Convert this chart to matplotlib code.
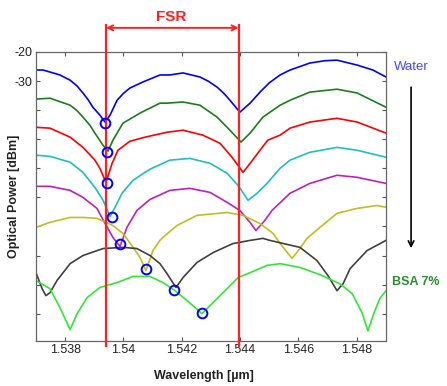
import matplotlib
matplotlib.use("Agg")
import matplotlib.pyplot as plt
from matplotlib.ticker import FixedLocator, FixedFormatter

plt.rcParams['font.family'] = ['Liberation Sans', 'DejaVu Sans']

# spectra: wavelength [um], power [dBm]
wl_water = [1.53700, 1.53724, 1.53748, 1.53782, 1.53817, 1.53840, 1.53861, 1.53880, 1.53895,
            1.53919, 1.53937, 1.53954, 1.53978, 1.54000, 1.54022, 1.54067, 1.54125, 1.54159,
            1.54204, 1.54262, 1.54290, 1.54321, 1.54345, 1.54365, 1.54399, 1.54434, 1.54468,
            1.54500, 1.54537, 1.54571, 1.54639, 1.54690, 1.54732, 1.54801, 1.54855, 1.54900]
p_water = [-26.2, -26.2, -26.9, -27.9, -29.7, -31.6, -34.1, -36.6, -39.0,
           -41.7, -44.1, -41.7, -36.6, -34.2, -32.4, -30.3, -27.9, -27.9,
           -27.2, -28.6, -30.0, -32.1, -34.3, -36.6, -40.7, -37.6, -33.8,
           -30.6, -27.9, -26.2, -23.8, -23.0, -22.8, -24.5, -26.2, -28.6]

wl_2 = [1.53700, 1.53748, 1.53817, 1.53840, 1.53861, 1.53885, 1.53902, 1.53930, 1.53947,
        1.53964, 1.53998, 1.54057, 1.54125, 1.54149, 1.54204, 1.54262, 1.54321, 1.54365,
        1.54403, 1.54434, 1.54478, 1.54537, 1.54571, 1.54639, 1.54732, 1.54801, 1.54900]
p_2 = [-36.2, -35.9, -38.3, -40.1, -42.4, -45.2, -47.9, -52.1, -54.1,
       -50.3, -44.5, -41.0, -37.6, -37.6, -37.2, -38.3, -42.4, -46.9,
       -51.0, -47.9, -42.4, -38.3, -36.6, -33.8, -32.8, -34.1, -39.0]

wl_3 = [1.53700, 1.53748, 1.53817, 1.53861, 1.53902, 1.53919, 1.53940, 1.53961, 1.53981,
        1.54022, 1.54074, 1.54149, 1.54204, 1.54272, 1.54331, 1.54372, 1.54410, 1.54434,
        1.54468, 1.54495, 1.54537, 1.54571, 1.54639, 1.54732, 1.54801, 1.54900]
p_3 = [-45.9, -46.2, -49.3, -52.8, -57.2, -60.0, -64.8, -58.3, -53.8,
       -50.7, -49.3, -47.6, -46.9, -48.6, -51.4, -56.2, -61.4, -58.3,
       -53.8, -50.3, -48.6, -46.2, -44.1, -42.8, -44.1, -47.9]

wl_4 = [1.53700, 1.53748, 1.53817, 1.53861, 1.53902, 1.53930, 1.53954, 1.53971, 1.53995,
        1.54033, 1.54091, 1.54159, 1.54228, 1.54297, 1.54355, 1.54393, 1.54427, 1.54458,
        1.54492, 1.54537, 1.54571, 1.54639, 1.54732, 1.54801, 1.54900]
p_4 = [-55.5, -55.9, -57.9, -61.4, -66.6, -71.0, -76.6, -73.4, -68.6,
       -64.1, -60.3, -57.2, -56.6, -58.3, -61.7, -65.9, -71.0, -68.6,
       -65.2, -60.0, -57.2, -54.5, -52.8, -53.8, -56.2]

wl_5 = [1.53700, 1.53748, 1.53817, 1.53861, 1.53909, 1.53937, 1.53964, 1.53988, 1.54012,
        1.54046, 1.54091, 1.54159, 1.54228, 1.54297, 1.54355, 1.54399, 1.54434, 1.54454,
        1.54485, 1.54509, 1.54571, 1.54639, 1.54732, 1.54801, 1.54900]
p_5 = [-66.2, -66.2, -67.6, -70.0, -73.8, -79.0, -83.8, -86.9, -80.3,
       -74.5, -70.7, -67.6, -66.9, -68.3, -71.7, -74.5, -78.6, -81.4,
       -77.9, -74.5, -68.6, -65.2, -62.4, -63.1, -65.2]

wl_6 = [1.53700, 1.53748, 1.53817, 1.53861, 1.53909, 1.53964, 1.53998, 1.54033, 1.54057,
        1.54077, 1.54101, 1.54125, 1.54135, 1.54183, 1.54252, 1.54355, 1.54410, 1.54468,
        1.54513, 1.54537, 1.54578, 1.54605, 1.54629, 1.54674, 1.54732, 1.54801, 1.54869,
        1.54900]
p_6 = [-80.3, -78.6, -76.9, -76.9, -77.2, -79.7, -82.4, -87.2, -90.7,
       -95.2, -88.3, -84.8, -83.8, -79.7, -76.2, -75.2, -76.2, -79.0,
       -82.4, -85.9, -91.0, -87.6, -84.1, -80.3, -75.5, -73.8, -72.8,
       -73.4]

wl_7 = [1.53700, 1.53721, 1.53734, 1.53748, 1.53772, 1.53817, 1.53861, 1.53930, 1.53998,
        1.54046, 1.54091, 1.54125, 1.54149, 1.54180, 1.54204, 1.54252, 1.54307, 1.54375,
        1.54434, 1.54478, 1.54502, 1.54605, 1.54663, 1.54701, 1.54732, 1.54753, 1.54777,
        1.54835, 1.54900]
p_7 = [-95.9, -101.4, -103.8, -102.8, -98.6, -92.8, -90.0, -87.6, -87.2,
       -87.6, -90.0, -92.8, -96.2, -101.0, -97.6, -92.4, -89.0, -85.9,
       -84.8, -84.1, -84.8, -87.2, -91.7, -96.9, -102.1, -99.7, -94.5,
       -88.3, -84.8]

wl_bsa = [1.53700, 1.53748, 1.53782, 1.53817, 1.53841, 1.53875, 1.53919, 1.53978, 1.54033,
          1.54091, 1.54135, 1.54177, 1.54218, 1.54269, 1.54297, 1.54341, 1.54393, 1.54434,
          1.54492, 1.54537, 1.54605, 1.54674, 1.54742, 1.54784, 1.54818, 1.54838, 1.54859,
          1.54879, 1.54900]
p_bsa = [-98.6, -101.4, -107.9, -115.5, -110.0, -104.5, -101.0, -99.3, -97.2,
         -97.2, -99.3, -102.1, -105.5, -110.0, -107.2, -102.8, -97.6, -95.9,
         -93.4, -92.8, -94.1, -96.6, -99.7, -103.1, -109.7, -115.9, -109.7,
         -104.8, -102.1]

# tracked resonance (blue circles)
wl_track = [1.53937, 1.53943, 1.53943, 1.53961, 1.53988, 1.54077, 1.54173, 1.54269]
p_track = [-44.5, -54.5, -65.2, -76.9, -85.9, -94.5, -101.7, -109.7]

fsr_left = 1.53940
fsr_right = 1.54395

x_ticks = [1.538, 1.540, 1.542, 1.544, 1.546, 1.548]
x_labels = ['1.538', '1.54', '1.542', '1.544', '1.546', '1.548']
y_ticks = [-110, -100, -90, -80, -70, -60, -50, -40, -30, -20]
y_labels = [''] * 8 + ['-30', '-20']

series = [(wl_water, p_water, '#0000ff'), (wl_2, p_2, '#1a7f1a'), (wl_3, p_3, '#ff0000'),
          (wl_4, p_4, '#1fbfbf'), (wl_5, p_5, '#bf1fbf'), (wl_6, p_6, '#bfbf1f'),
          (wl_7, p_7, '#404040'), (wl_bsa, p_bsa, '#33e633')]

fig = plt.figure(figsize=(4.47, 3.86), dpi=100)
ax = fig.add_axes([0.0805, 0.1166, 0.783, 0.7487])

for wl, p, c in series:
    ax.plot(wl, p, color=c, lw=1.2, zorder=2)

# FSR markers
for xv in (fsr_left, fsr_right):
    ax.plot([xv, xv], [-121.0, -10.7], color='#ff2020', lw=1.6, clip_on=False, zorder=3)
ax.annotate('', xy=(fsr_left, -11.7), xytext=(fsr_right, -11.7),
            arrowprops=dict(arrowstyle='<->', color='#ff2020', lw=1.4,
                            shrinkA=0, shrinkB=0, mutation_scale=9),
            annotation_clip=False)
ax.text((fsr_left + fsr_right) / 2 - 0.00005, -7.9, 'FSR', color='#ff2020', fontsize=11,
        fontweight='bold', ha='center', va='center', clip_on=False)

ax.plot(wl_track, p_track, 'o', mfc='none', mec='#0000ff', ms=7, mew=1.4, zorder=4)

# side labels and arrow
ax.text(1.54987, -25.0, 'Water', color='#4646ff', fontsize=9.5, ha='center', va='center',
        clip_on=False)
ax.text(1.55003, -99.0, 'BSA 7%', color='#2e8b2e', fontsize=9, fontweight='bold',
        ha='center', va='center', clip_on=False)
ax.annotate('', xy=(1.54986, -87.5), xytext=(1.54986, -32.1),
            arrowprops=dict(arrowstyle='->', color='black', lw=1.2, shrinkA=0, shrinkB=0,
                            mutation_scale=10),
            annotation_clip=False)

ax.set_xlim(1.537, 1.549)
ax.set_ylim(-119.4, -20)
ax.xaxis.set_major_locator(FixedLocator(x_ticks))
ax.xaxis.set_major_formatter(FixedFormatter(x_labels))
ax.yaxis.set_major_locator(FixedLocator(y_ticks))
ax.yaxis.set_major_formatter(FixedFormatter(y_labels))
ax.tick_params(direction='in', length=3, width=0.8, color='#555555', labelsize=9,
               top=True, right=True, pad=2.5, labelcolor='#222222')
for s in ax.spines.values():
    s.set_color('#666666')
    s.set_linewidth(0.9)

ax.set_xlabel('Wavelength [µm]', fontsize=9, fontweight='bold', color='#222222')
ax.xaxis.set_label_coords(0.481, -0.102)
ax.set_ylabel('Optical Power [dBm]', fontsize=9, fontweight='bold', color='#222222')
ax.yaxis.set_label_coords(-0.045, 0.5)

fig.savefig('out.png', dpi=100)
